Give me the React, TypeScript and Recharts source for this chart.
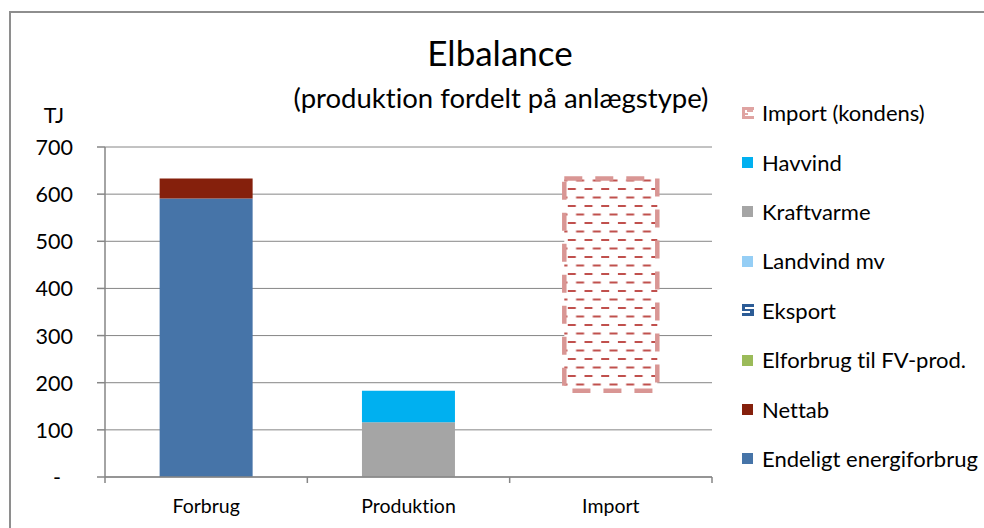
import React from 'react';
import { BarChart, Bar, XAxis, YAxis, CartesianGrid, Customized } from 'recharts';

const categories = ['Forbrug', 'Produktion', 'Import'];
const endeligtEnergiforbrug = [591, 0, 0];
const nettab = [42, 0, 0];
const elforbrugFV = [0, 0, 0];
const eksport = [0, 0, 0];
const landvind = [0, 0, 0];
const kraftvarme = [0, 116, 0];
const havvind = [0, 67, 0];
const importBase = [0, 0, 183];
const importKondens = [0, 0, 450];
const yTicks = [0, 100, 200, 300, 400, 500, 600, 700];

const legendNames = [
  'Import (kondens)',
  'Havvind',
  'Kraftvarme',
  'Landvind mv',
  'Eksport',
  'Elforbrug til FV-prod.',
  'Nettab',
  'Endeligt energiforbrug',
];
const legendColors = ['#D99694', '#00B0F0', '#A5A5A5', '#95CEF5', '#2C5C96', '#9BBB59', '#85200C', '#4674A8'];

const data = categories.map((c, i) => ({
  cat: c,
  base: importBase[i],
  endeligt: endeligtEnergiforbrug[i],
  nettab: nettab[i],
  elfv: elforbrugFV[i],
  eksport: eksport[i],
  landvind: landvind[i],
  kraftvarme: kraftvarme[i],
  havvind: havvind[i],
  importK: importKondens[i],
}));

const FONT = 'Lato, "Open Sans", sans-serif';
const GREY = '#868686';
const noLig = { fontVariantLigatures: 'none' as const };
const X_TICK_SIZE = 6;
const X_TICK_MARGIN = 22;

const YTick = (props: any) => {
  const { x, y, payload } = props;
  const isZero = payload.value === 0;
  return (
    <text x={isZero ? x - 12 : x} y={y} textAnchor="end" dominantBaseline="central" fontFamily={FONT} fontSize={21.5} fill="#000">
      {isZero ? '-' : payload.value}
    </text>
  );
};

const XTick = (props: any) => {
  const { x, y, payload, index } = props;
  const half = payload && typeof payload.offset === 'number' ? payload.offset : 0;
  const top = y - X_TICK_SIZE - X_TICK_MARGIN;
  return (
    <g>
      {half > 0 && index === 0 && (
        <line x1={x - half} y1={top} x2={x - half} y2={top + 6} stroke={GREY} strokeWidth={1.5} />
      )}
      {half > 0 && (
        <line x1={x + half} y1={top} x2={x + half} y2={top + 6} stroke={GREY} strokeWidth={1.5} />
      )}
      <text x={x} y={y} textAnchor="middle" dominantBaseline="central" fontFamily={FONT} fontSize={19.5} fill="#000" style={noLig}>
        {payload.value}
      </text>
    </g>
  );
};

const Titles = () => (
  <g>
    <text x={500} y={52} textAnchor="middle" dominantBaseline="central" fontFamily={FONT} fontSize={35} fill="#000">Elbalance</text>
    <text x={501} y={97} textAnchor="middle" dominantBaseline="central" fontFamily={FONT} fontSize={27.5} fill="#000" style={noLig}>(produktion fordelt på anlægstype)</text>
    <text x={54} y={115} textAnchor="middle" dominantBaseline="central" fontFamily={FONT} fontSize={21.5} fill="#000">TJ</text>
  </g>
);

const LegendIcon = ({ i }: { i: number }) => {
  if (i === 0) {
    return (
      <svg width={12} height={12} style={{ display: 'block' }}>
        <rect x={0} y={0} width={12} height={12} fill="#DFA3A1" />
        <rect x={3} y={3} width={9} height={6} fill="#fff" />
        <line x1={5} y1={4} x2={11} y2={4} stroke="#C0504D" strokeWidth={1} />
        <line x1={3} y1={7} x2={6} y2={7} stroke="#C0504D" strokeWidth={1} />
      </svg>
    );
  }
  if (i === 4) {
    return (
      <svg width={12} height={12} style={{ display: 'block' }}>
        <rect x={0} y={0} width={12} height={12} fill="#2C5C96" />
        <rect x={3} y={3} width={9} height={2} fill="#fff" />
        <rect x={0} y={7} width={8} height={2} fill="#fff" />
      </svg>
    );
  }
  return (
    <svg width={12} height={12} style={{ display: 'block' }}>
      <rect x={0} y={1} width={11} height={11} fill={legendColors[i]} />
    </svg>
  );
};

const LegendBlock = () => (
  <div style={{ position: 'absolute', left: 742, top: 88, fontFamily: FONT, fontSize: 22, color: '#000', fontVariantLigatures: 'none' }}>
    {legendNames.map((n, i) => (
      <div key={n} style={{ height: 49.4, display: 'flex', alignItems: 'center', whiteSpace: 'nowrap' }}>
        <LegendIcon i={i} />
        <span style={{ marginLeft: 8 }}>{n}</span>
      </div>
    ))}
  </div>
);

export default function App() {
  return (
    <div style={{ position: 'absolute', left: 0, top: 0, width: 984, height: 528, background: '#fff', overflow: 'hidden' }}>
      <div style={{ position: 'absolute', left: 9, top: 11, width: 1000, height: 1000, borderTop: '2px solid #8E8E8E', borderLeft: '2px solid #8E8E8E' }} />
      <div style={{ position: 'absolute', left: 0, top: 0 }}>
        <BarChart width={984} height={528} data={data} margin={{ top: 147, right: 272, left: 0, bottom: 0 }} barCategoryGap="27%">
          <defs>
            <pattern id="importPattern" patternUnits="userSpaceOnUse" width={16.7} height={17} x={0} y={0}>
              <rect width={16.7} height={17} fill="#fff" />
              <line x1={0} y1={2} x2={8} y2={2} stroke="#C0504D" strokeWidth={2} />
              <line x1={8.3} y1={10.5} x2={16.3} y2={10.5} stroke="#C0504D" strokeWidth={2} />
            </pattern>
          </defs>
          <CartesianGrid horizontal vertical={false} stroke={GREY} />
          <XAxis dataKey="cat" tick={<XTick />} tickLine={false} tickSize={X_TICK_SIZE} axisLine={{ stroke: GREY, strokeWidth: 1.5 }} height={51} tickMargin={X_TICK_MARGIN} />
          <YAxis domain={[0, 700]} ticks={yTicks} width={105} tick={<YTick />} tickSize={8} tickMargin={24} tickLine={{ stroke: GREY, strokeWidth: 1.5 }} axisLine={{ stroke: GREY, strokeWidth: 1.5 }} interval={0} />
          <Bar dataKey="base" stackId="s" fill="transparent" isAnimationActive={false} legendType="none" />
          <Bar dataKey="endeligt" name="Endeligt energiforbrug" stackId="s" fill="#4674A8" isAnimationActive={false} />
          <Bar dataKey="nettab" name="Nettab" stackId="s" fill="#85200C" isAnimationActive={false} />
          <Bar dataKey="elfv" name="Elforbrug til FV-prod." stackId="s" fill="#9BBB59" isAnimationActive={false} />
          <Bar dataKey="eksport" name="Eksport" stackId="s" fill="#2C5C96" isAnimationActive={false} />
          <Bar dataKey="landvind" name="Landvind mv" stackId="s" fill="#95CEF5" isAnimationActive={false} />
          <Bar dataKey="kraftvarme" name="Kraftvarme" stackId="s" fill="#A5A5A5" isAnimationActive={false} />
          <Bar dataKey="havvind" name="Havvind" stackId="s" fill="#00B0F0" isAnimationActive={false} />
          <Bar dataKey="importK" name="Import (kondens)" stackId="s" fill="url(#importPattern)" stroke="#D99694" strokeWidth={4.5} strokeDasharray="18 13" isAnimationActive={false} />
          <Customized component={<Titles />} />
        </BarChart>
      </div>
      <LegendBlock />
    </div>
  );
}
